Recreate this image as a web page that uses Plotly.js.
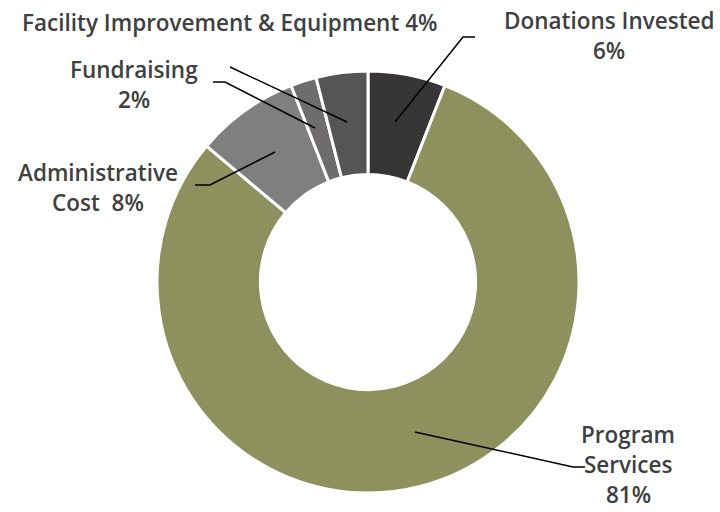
<!DOCTYPE html>
<html><head><meta charset="utf-8">
<script src="https://cdn.plot.ly/plotly-3.0.1.min.js"></script>
<style>html,body{margin:0;padding:0;background:#fff}</style>
</head><body><div id="chart" style="width:720px;height:512px"></div>
<script>
const categories = ["Donations Invested", "Program Services", "Administrative Cost", "Fundraising", "Facility Improvement & Equipment"];
const values = [6, 81, 8, 2, 4];
const labelLines = [["Donations Invested", "6%"], ["Program", "Services", "81%"], ["Administrative", "Cost  8%"], ["Fundraising", "2%"], ["Facility Improvement & Equipment 4%"]];
const colors = ["#383634", "#8c915e", "#7f7f7f", "#6e6c6c", "#555555"];

const W = 720, H = 512;
const px = x => x / W, py = y => 1 - y / H;
// label first-line center positions (pixels)
const labelPos = [[609, 20], [628, 434], [98, 172], [134, 69], [230, 22]];
const lineGap = 30;
// leader lines: [elbow end, elbow, inner point]
const leaders = [
  [[475, 37], [463, 37], [395, 122]],
  [[585, 467], [573, 467], [415, 432]],
  [[195, 185], [210, 185], [275, 152]],
  [[213, 82], [225, 82], [315, 128]],
  [[230, 67], [230, 67], [347, 122]]
];

const annotations = [];
labelLines.forEach((lines, i) => lines.forEach((t, j) => annotations.push({
  xref: 'paper', yref: 'paper', x: px(labelPos[i][0]), y: py(labelPos[i][1] + j * lineGap),
  xanchor: 'center', yanchor: 'middle', text: t, showarrow: false, align: 'center', borderpad: 0,
  font: {family: 'Open Sans, sans-serif', size: 22.5, color: '#404040', weight: 600}
})));
const shapes = leaders.map(l => ({
  type: 'path', xref: 'paper', yref: 'paper',
  path: 'M' + l.map(p => px(p[0]) + ',' + py(p[1])).join(' L'),
  line: {color: '#000', width: 1.5}
}));

const cx = 368, cy = 282, R = 211;
Plotly.newPlot('chart', [{
  type: 'pie', labels: categories, values: values, sort: false, direction: 'clockwise',
  hole: 0.51, textinfo: 'none', hoverinfo: 'label+percent',
  marker: {colors: colors, line: {color: '#fff', width: 3}},
  domain: {x: [px(cx - R), px(cx + R)], y: [py(cy + R), py(cy - R)]}
}], {
  width: W, height: H, margin: {l: 0, r: 0, t: 0, b: 0}, showlegend: false,
  paper_bgcolor: '#fff', annotations: annotations, shapes: shapes
}, {displayModeBar: false, staticPlot: true});
</script></body></html>
